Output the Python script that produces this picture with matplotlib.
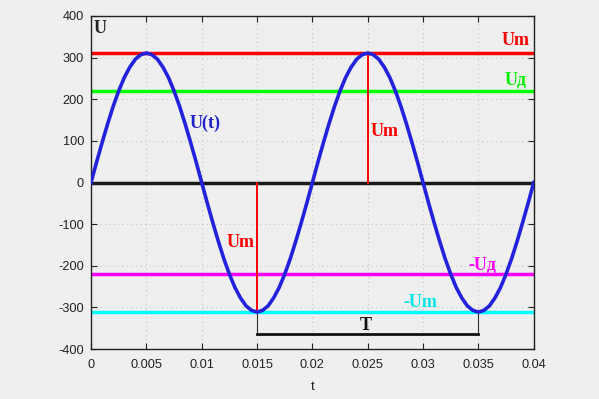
import numpy as np
import matplotlib.pyplot as plt

plt.rcParams['axes.unicode_minus'] = False

t_ms = [0, 0.5, 1, 1.5, 2, 2.5, 3, 3.5, 4, 4.5,
        5, 5.5, 6, 6.5, 7, 7.5, 8, 8.5, 9, 9.5,
        10, 10.5, 11, 11.5, 12, 12.5, 13, 13.5, 14, 14.5,
        15, 15.5, 16, 16.5, 17, 17.5, 18, 18.5, 19, 19.5,
        20, 20.5, 21, 21.5, 22, 22.5, 23, 23.5, 24, 24.5,
        25, 25.5, 26, 26.5, 27, 27.5, 28, 28.5, 29, 29.5,
        30, 30.5, 31, 31.5, 32, 32.5, 33, 33.5, 34, 34.5,
        35, 35.5, 36, 36.5, 37, 37.5, 38, 38.5, 39, 39.5, 40]
u_vals = [0, 49, 96, 141, 183, 220, 252, 277, 296, 307,
          311, 307, 296, 277, 252, 220, 183, 141, 96, 49,
          0, -49, -96, -141, -183, -220, -252, -277, -296, -307,
          -311, -307, -296, -277, -252, -220, -183, -141, -96, -49,
          0, 49, 96, 141, 183, 220, 252, 277, 296, 307,
          311, 307, 296, 277, 252, 220, 183, 141, 96, 49,
          0, -49, -96, -141, -183, -220, -252, -277, -296, -307,
          -311, -307, -296, -277, -252, -220, -183, -141, -96, -49, 0]

u_max = 311
u_eff = 220
t_peak = 0.025
t_trough = 0.015
t_period_end = 0.035
t_bar_y = -363

xticks = [0, 0.005, 0.01, 0.015, 0.02, 0.025, 0.03, 0.035, 0.04]
xtick_labels = ['0', '0.005', '0.01', '0.015', '0.02', '0.025', '0.03', '0.035', '0.04']
yticks = [-400, -300, -200, -100, 0, 100, 200, 300, 400]

bg = '#efefef'
t = np.array(t_ms) / 1000.0

fig = plt.figure(figsize=(5.99, 3.99), dpi=100, facecolor=bg)
ax = fig.add_axes([0.152, 0.125, 0.739, 0.835])
ax.set_facecolor(bg)

# horizontal reference levels
ax.axhline(u_max, color='#ff0000', lw=2.5, zorder=2)
ax.axhline(u_eff, color='#00ff00', lw=2.5, zorder=2)
ax.axhline(0, color='#1a1a1a', lw=2.5, zorder=2)
ax.axhline(-u_eff, color='#ff00ff', lw=2.5, zorder=2)
ax.axhline(-u_max, color='#00ffff', lw=2.5, zorder=2)

# amplitude markers
ax.plot([t_peak, t_peak], [0, u_max], color='#ff0000', lw=1.4, zorder=3)
ax.plot([t_trough, t_trough], [0, -u_max], color='#ff0000', lw=1.4, zorder=3)

# period bracket
ax.plot([t_trough, t_trough], [-u_max, t_bar_y], color='#333333', lw=0.8, zorder=3)
ax.plot([t_period_end, t_period_end], [-u_max, t_bar_y], color='#333333', lw=0.8, zorder=3)
ax.plot([t_trough, t_period_end], [t_bar_y, t_bar_y], color='#111111', lw=2, zorder=3)

ax.plot(t, u_vals, color='#2222dd', lw=2.6, zorder=4)

serif = dict(family='Liberation Serif', weight='bold', fontsize=13)
ax.text(0.0002, 370, 'U', color='#222222', va='center', ha='left', **serif)
ax.text(0.0089, 143, 'U(t)', color='#2222cc', va='center', ha='left', **serif)
ax.text(0.0396, 340, 'Um', color='#ff0000', va='center', ha='right', **serif)
ax.text(0.0394, 247, 'Uд', color='#00ee00', va='center', ha='right', **serif)
ax.text(0.0253, 122, 'Um', color='#ff0000', va='center', ha='left', **serif)
ax.text(0.0148, -145, 'Um', color='#ff0000', va='center', ha='right', **serif)
ax.text(0.0341, -198, '-Uд', color='#ff00ff', va='center', ha='left', **serif)
ax.text(0.0282, -289, '-Um', color='#00e5e5', va='center', ha='left', **serif)
ax.text(0.0248, -343, 'T', color='#111111', va='center', ha='center', **serif)

ax.set_xlim(0, 0.04)
ax.set_ylim(-400, 400)
ax.set_xticks(xticks)
ax.set_xticklabels(xtick_labels)
ax.set_yticks(yticks)
ax.grid(True, color='#c4c4c4', linestyle=(0, (1, 3)), lw=0.8)
ax.tick_params(direction='in', top=True, right=True, length=4, width=0.8,
               labelsize=9.2, colors='#222222')
ax.tick_params(axis='x', pad=7)
ax.tick_params(axis='y', pad=5)
for lab in ax.get_xticklabels() + ax.get_yticklabels():
    lab.set_family('Liberation Sans')
for sp in ax.spines.values():
    sp.set_color('#222222')
    sp.set_linewidth(1.0)
ax.set_xlabel('t', family='Liberation Sans', fontsize=9.5, color='#222222', labelpad=7)

fig.savefig('out.png', dpi=100, facecolor=bg)
